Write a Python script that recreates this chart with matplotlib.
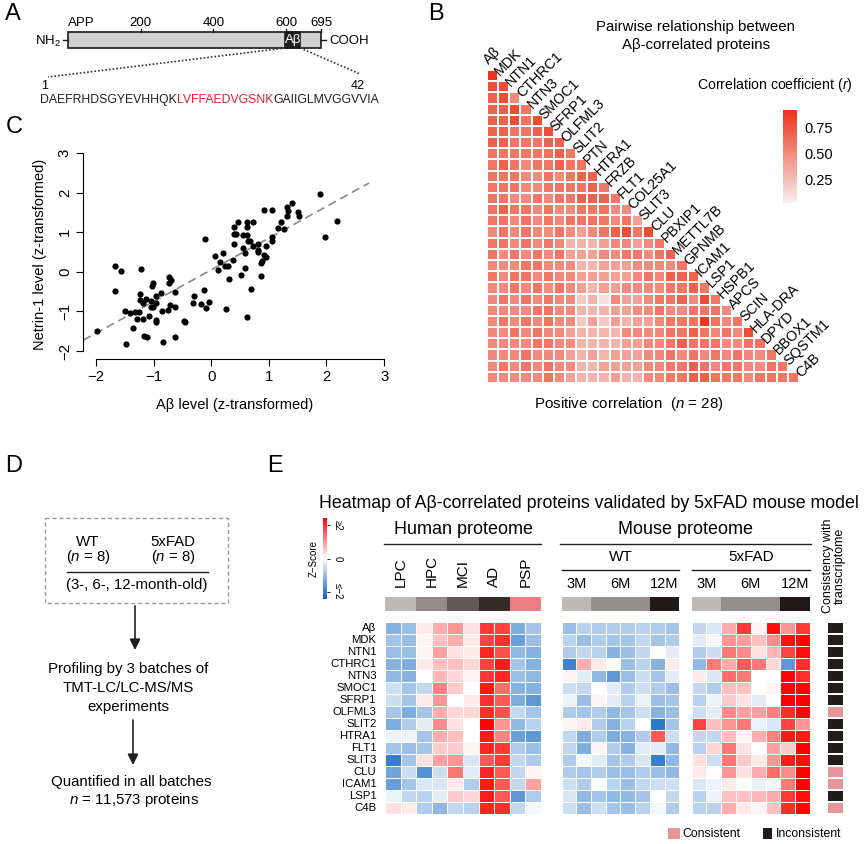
import numpy as np
import matplotlib
matplotlib.use('Agg')
import matplotlib.pyplot as plt
import matplotlib.transforms as mtransforms
from matplotlib.colors import LinearSegmentedColormap, Normalize, ListedColormap
from matplotlib.cm import ScalarMappable
from matplotlib.patches import Rectangle

plt.rcParams['font.family'] = ['Liberation Sans', 'DejaVu Sans']
plt.rcParams['mathtext.fontset'] = 'custom'
plt.rcParams['mathtext.rm'] = 'Liberation Sans'
plt.rcParams['mathtext.it'] = 'Liberation Sans:italic'

# ---------------- data ----------------
# A: APP schematic
app_len = 695
app_ticks = [200, 400, 600, 695]
abeta_span = (597, 638)
seq_parts = ["DAEFRHDSGYEVHHQK", "LVFFAEDVGSNK", "GAIIGLMVGGVVIA"]

# B: pairwise correlation (lower triangle, one digit = r x 10)
b_proteins = ["Aβ", "MDK", "NTN1", "CTHRC1", "NTN3", "SMOC1", "SFRP1", "OLFML3",
              "SLIT2", "PTN", "HTRA1", "FRZB", "FLT1", "COL25A1", "SLIT3", "CLU",
              "PBXIP1", "METTL7B", "GPNMB", "ICAM1", "LSP1", "HSPB1", "APCS",
              "SCIN", "HLA-DRA", "DPYD", "BBOX1", "SQSTM1", "C4B"]
corr_rows = [
    "9", "88", "785", "7786", "77868", "776678", "7766677", "66666676",
    "676566766", "6665565677", "66655666676", "665565667776",
    "6766565566655", "66565656666564", "565655654567868",
    "6656565333455456", "65656564445566567", "555665553344455556",
    "6566565544444565777", "55656565434455556676", "565656552315445667586",
    "5555665533344556556665", "56565655242434456669656",
    "556565543333555566765658", "5555665533334455676665566",
    "55565554343444556565656556", "565656553344445566765665566",
    "5555565433343355667766656666",
]

# C: Abeta vs Netrin-1
abeta_level = [-1.67, -1.56, -1.22, -1.67, -1.24, -1.01, -1.02, -0.87, -0.95, -0.74,
               -0.69, -0.73, -0.63, -1.24, -1.13, -1.05, -1.18, -0.96, -1.01, -1.05,
               -0.72, -0.62, -1.49, -1.41, -1.33, -1.26, -0.86, -0.75, -1.08, -1.28,
               -1.19, -0.96, -0.95, -1.35, -1.99, -1.17, -1.11, -1.48, -0.84, -0.62,
               -0.48, -0.45, -0.30, -0.32, -0.12, -0.18, -0.09, -0.04, -0.10,
               0.07, 0.12, 0.16, 0.21, 0.24, 0.29, 0.31, 0.38, 0.26, 0.52,
               0.58, 0.58, 0.69, 0.62, 0.81, 0.86, 0.87, 0.88, 0.91, 0.95,
               0.55, 1.89, 2.18, 1.98, 0.91, 1.06, 1.31, 1.40, 1.33, 1.31,
               1.50, 1.52, 1.21, 1.15, 1.27, 1.06, 1.06, 0.95, 0.81, 0.81,
               0.72, 0.62, 0.47, 0.39, 0.62, 0.39, 0.43, 0.55, 0.62, 0.64,
               0.68, 0.40, 0.55, 0.72]
netrin_level = [0.14, 0.02, 0.07, -0.49, -0.56, -0.29, -0.35, -0.54, -0.60, -0.14,
                -0.20, -0.29, -0.51, -0.71, -0.69, -0.74, -0.78, -0.79, -0.88, -0.89,
                -0.84, -0.88, -0.99, -1.05, -1.02, -1.02, -0.98, -0.96, -1.11, -1.20,
                -1.19, -1.22, -1.27, -1.43, -1.49, -1.62, -1.65, -1.81, -1.76, -1.65,
                -1.23, -1.27, -0.62, -0.79, -0.46, -0.82, -0.91, -0.75, 0.83,
                0.41, 0.05, 0.25, 0.47, 0.14, 0.14, -0.17, 0.29, -0.93, -0.08,
                0.09, 0.47, -0.43, -1.13, 0.51, -0.10, 0.22, 0.28, 0.43, 0.37,
                3.21, 1.97, 1.29, 0.89, 1.57, 1.57, 1.63, 1.73, 1.54, 1.41,
                1.50, 1.41, 1.25, 1.10, 1.08, 0.88, 0.78, 0.66, 0.70, 0.56,
                1.27, 1.27, 1.25, 1.13, 1.13, 0.96, 0.96, 0.93, 0.93, 0.77,
                0.77, 0.70, 0.60, 0.66]
fit_x = np.array([-2.22, 2.74])
fit_intercept, fit_slope = 0.05, 0.80

# E: z-score heatmap
e_proteins = ["Aβ", "MDK", "NTN1", "CTHRC1", "NTN3", "SMOC1", "SFRP1", "OLFML3",
              "SLIT2", "HTRA1", "FLT1", "SLIT3", "CLU", "ICAM1", "LSP1", "C4B"]
human_groups = ["LPC", "HPC", "MCI", "AD", "PSP"]
human_cols = [0, 0, 1, 1, 2, 2, 3, 3, 4, 4]
mouse_ages = ["3M", "6M", "12M"]
mouse_cols = [0, 0, 1, 1, 1, 1, 2, 2]
human_z = [
    [-1.2, -1.0, 0.2, 0.8, 1.0, 0.3, 1.9, 1.8, -1.3, -0.9],
    [-0.9, -1.0, 0.1, 0.6, 0.8, 0.2, 1.8, 2.0, -1.5, -1.0],
    [-1.0, -1.0, 0.1, 0.9, 0.3, 0.2, 2.1, 1.7, -1.1, -1.2],
    [-1.2, -1.3, 0.2, 0.6, 0.6, 0.4, 1.8, 2.2, -0.9, -1.2],
    [-1.1, -1.2, 0.0, 0.7, 0.4, 0.1, 1.9, 2.1, -1.0, -1.1],
    [-0.5, -0.9, -0.6, 1.2, 0.5, 0.0, 2.2, 1.4, -1.2, -1.2],
    [-0.5, -0.9, 0.2, 1.0, 0.0, 0.2, 2.0, 1.6, -1.3, -1.6],
    [-0.9, -1.3, -0.9, 0.8, 0.4, 0.4, 2.0, 1.7, -0.6, -0.9],
    [-1.3, -0.8, -0.3, 1.1, 0.3, 0.0, 2.4, 1.0, -1.1, -0.7],
    [-0.2, -0.2, -0.9, 0.8, 0.6, 0.0, 2.2, 1.2, -1.5, -1.6],
    [-0.9, -1.0, -0.9, 0.5, 0.5, 0.1, 2.1, 1.9, -0.8, -1.0],
    [-2.0, -0.9, 0.3, 0.9, 1.0, -0.4, 1.6, 1.9, -0.6, -0.8],
    [-1.4, -0.5, -1.7, -0.5, 1.3, -0.3, 2.1, 1.6, -0.6, 0.1],
    [-1.5, -0.9, -0.4, -0.4, 0.2, -0.8, 2.2, 1.6, -0.6, 0.9],
    [-0.2, -0.6, -0.7, -0.3, 0.5, 0.4, 2.2, 1.6, -1.6, -0.8],
    [0.3, 0.2, -0.8, -1.1, -0.6, -0.7, 2.1, 2.0, -0.6, -0.1],
]
wt_z = [
    [-1.0, -0.7, -0.8, -0.8, -0.8, -0.7, -0.8, -0.9],
    [-0.7, -1.0, -0.8, -0.9, -0.9, -0.6, -0.9, -0.8],
    [-0.8, -0.6, -0.7, -1.2, -1.0, -0.6, 0.0, -0.3],
    [-1.9, 0.8, 0.2, 0.0, -1.0, -0.7, -1.2, 0.2],
    [0.1, -0.3, -1.1, -1.6, -1.0, -0.5, -0.9, -0.3],
    [-0.5, -0.6, 0.0, -0.3, -0.8, -0.5, -0.8, -1.0],
    [-0.2, -1.0, 0.1, -0.3, -0.7, -0.2, -1.0, -0.9],
    [-0.8, -0.9, -0.8, -1.1, -0.9, -0.5, -1.2, -1.0],
    [0.1, 0.2, -0.8, -1.2, -0.7, 0.0, -2.1, -0.9],
    [-0.6, -1.3, -0.8, -1.3, -1.2, -0.8, 1.6, -0.5],
    [-0.6, -1.3, 0.1, -0.8, -1.2, -0.3, -0.3, -1.1],
    [-0.8, -0.1, -0.3, -0.9, -0.8, -0.4, -2.0, -1.1],
    [-0.8, -0.9, -0.8, -1.0, -1.0, -0.8, -1.0, -1.1],
    [-0.5, -0.8, 0.0, -0.7, -1.0, -0.6, -0.5, -0.5],
    [-0.4, -1.1, -0.9, -1.1, -1.1, -0.9, 0.0, -0.6],
    [-0.5, -1.0, -0.5, -0.9, -1.0, -0.7, -0.1, -0.8],
]
fad_z = [
    [-0.6, -0.4, 0.8, 1.9, 0.1, 2.3, 1.0, 1.9],
    [-0.3, -0.1, 1.0, 0.9, 0.6, 1.1, 2.3, 2.4],
    [-0.8, -0.5, 1.3, 1.1, 0.3, 0.7, 1.8, 2.3],
    [-1.1, 1.3, 0.8, 1.6, 1.3, 0.4, -1.6, 2.0],
    [0.2, -0.4, 1.4, 1.3, 0.0, 0.0, 2.4, 2.0],
    [-0.6, -0.8, 0.6, 0.6, 0.0, 0.1, 2.4, 2.4],
    [-0.7, -0.2, 0.5, 0.3, -0.3, 0.0, 2.5, 2.5],
    [-0.5, -0.3, 1.1, 0.9, 0.9, 1.2, 2.0, 2.4],
    [1.8, 0.6, 1.0, 1.3, -0.2, -0.4, 1.8, 1.0],
    [-0.6, -0.6, 0.6, 0.1, 0.8, 1.2, 2.2, 2.2],
    [-0.7, 0.4, 1.3, 0.3, 0.0, 0.9, 0.5, 2.5],
    [0.3, -0.5, 1.3, 0.5, 0.2, 1.0, 2.2, 2.3],
    [0.2, 0.0, 1.0, 0.3, 0.8, 1.4, 1.1, 2.5],
    [-0.4, -0.2, 0.2, 0.0, -0.2, 0.1, 1.3, 2.4],
    [-0.7, -0.2, 0.6, 0.6, 0.7, 0.8, 1.9, 2.3],
    [-0.7, -0.7, 0.8, 0.2, 0.1, 0.6, 2.0, 2.4],
]
consistent = [0, 0, 0, 0, 0, 0, 0, 1, 0, 0, 0, 0, 1, 1, 0, 1]

# ---------------- figure ----------------
W, H = 867, 844
fig = plt.figure(figsize=(W / 100, H / 100), dpi=100)


def box(x0, y0, x1, y1):
    return [x0 / W, 1 - y1 / H, (x1 - x0) / W, (y1 - y0) / H]


ov = fig.add_axes([0, 0, 1, 1])
ov.set_xlim(0, W)
ov.set_ylim(H, 0)
ov.axis('off')
ov.set_zorder(10)
ov.patch.set_alpha(0)

for letter, (lx, ly) in zip("ABCDE", [(5, 14), (428, 14), (6, 127), (5, 466), (267, 466)]):
    ov.text(lx, ly, letter, fontsize=17, ha='left', va='center')

# ---------- A ----------
def res_x(r):
    return 68 + (r - 1) * 253 / (app_len - 1)

ov.add_patch(Rectangle((res_x(1), 32), res_x(app_len) - res_x(1), 16,
                       facecolor='#d0d0d2', edgecolor='#1a1a1a', lw=1.2))
ov.add_patch(Rectangle((res_x(abeta_span[0]), 32), res_x(abeta_span[1]) - res_x(abeta_span[0]), 16,
                       facecolor='#231f20', edgecolor='#1a1a1a', lw=1.2))
ov.text((res_x(abeta_span[0]) + res_x(abeta_span[1])) / 2, 40.5, "Aβ", color='white',
        fontsize=9.5, ha='center', va='center')
for t in app_ticks:
    ov.plot([res_x(t), res_x(t)], [28.5, 32], color='#1a1a1a', lw=1)
    ov.text(res_x(t), 23, str(t), fontsize=9.5, ha='center', va='center')
ov.text(81, 23, "APP", fontsize=9.5, ha='center', va='center')
ov.plot([63, 68], [40, 40], color='#1a1a1a', lw=1)
ov.plot([321, 326], [40, 40], color='#1a1a1a', lw=1)
ov.text(61, 41, "NH$_2$", fontsize=9.5, ha='right', va='center')
ov.text(329, 40.5, "COOH", fontsize=9.5, ha='left', va='center')
ov.plot([res_x(abeta_span[0]), 48], [48, 77], color='#333333', lw=1.2, ls=(0, (1, 1.2)))
ov.plot([res_x(abeta_span[1]), 360], [48, 74], color='#333333', lw=1.2, ls=(0, (1, 1.2)))
ov.text(45, 86, "1", fontsize=9, ha='center', va='center')
ov.text(358, 86, "42", fontsize=9, ha='center', va='center')
t1 = ov.text(40, 106, seq_parts[0], fontsize=8.8, ha='left', va='bottom', color='#231f20')
t2 = ov.annotate(seq_parts[1], xy=(1, 0), xycoords=t1, fontsize=8.8, ha='left', va='bottom',
                 color='#e0202c')
ov.annotate(seq_parts[2], xy=(1, 0), xycoords=t2, fontsize=8.8, ha='left', va='bottom',
            color='#231f20')

# ---------- B ----------
n = len(corr_rows)
corr = np.full((n, n), np.nan)
for i, row in enumerate(corr_rows):
    corr[i, :len(row)] = [int(c) / 10 for c in row]
cmap_b = LinearSegmentedColormap.from_list('corr', ['#f6efee', '#ec3219'])
norm_b = Normalize(0.015, 0.926)
axb = fig.add_axes(box(487, 70, 799, 383))
axb.pcolormesh(np.ma.masked_invalid(corr), cmap=cmap_b, norm=norm_b,
               edgecolors='white', linewidth=0.25)
axb.set_xlim(0, n)
axb.set_ylim(n, 0)
axb.axis('off')
for k, name in enumerate(b_proteins):
    axb.text(k + 0.35, k - 0.3, name, rotation=45, rotation_mode='anchor',
             ha='left', va='bottom', fontsize=10.3, clip_on=False)
ov.text(696, 27, "Pairwise relationship between", fontsize=10.8, ha='center', va='center')
ov.text(696, 45, "Aβ-correlated proteins", fontsize=10.8, ha='center', va='center')
ov.text(697, 85, "Correlation coefficient ($\\it{r}$)", fontsize=10.2, ha='left', va='center')
ov.text(629, 404, "Positive correlation  ($\\it{n}$ = 28)", fontsize=10.9, ha='center', va='center')
caxb = fig.add_axes(box(783, 110, 797, 203))
cb = fig.colorbar(ScalarMappable(norm_b, cmap_b), cax=caxb, ticks=[0.25, 0.5, 0.75])
cb.outline.set_visible(False)
caxb.set_yticklabels(['0.25', '0.50', '0.75'])
caxb.tick_params(length=0, labelsize=10.5, pad=5)

# ---------- C ----------
axc = fig.add_axes(box(83, 149, 387, 359))
axc.scatter(abeta_level, netrin_level, s=20, color='black', linewidths=0, zorder=3)
axc.plot(fit_x, fit_intercept + fit_slope * fit_x, color='#8a8a8a', lw=1.2, ls=(0, (5, 3)))
axc.set_xlim(-2.225, 3.05)
axc.set_ylim(-2.2, 3.1)
for s in ['top', 'right']:
    axc.spines[s].set_visible(False)
axc.spines['left'].set_bounds(-2, 3)
axc.spines['bottom'].set_bounds(-2, 3)
axc.set_xticks(range(-2, 4))
axc.set_yticks(range(-2, 4))
axc.set_xticklabels(["\u22122", "\u22121", "0", "1", "2", "3"])
axc.set_yticklabels(["\u22122", "\u22121", "0", "1", "2", "3"], rotation=90, va='center')
axc.tick_params(length=5, labelsize=10.8, pad=3)
axc.set_xlabel("Aβ level (z-transformed)", fontsize=10.5, labelpad=10)
axc.set_ylabel("Netrin-1 level (z-transformed)", fontsize=10.5, labelpad=8)

# ---------- D ----------
fs_d = 10.8
ov.add_patch(Rectangle((45, 518), 183, 85, fill=False, edgecolor='#9a9a9a', lw=1,
                       ls=(0, (3, 2))))
ov.text(88, 542, "WT", fontsize=fs_d, ha='center', va='center')
ov.text(88, 557, "($\\it{n}$ = 8)", fontsize=fs_d, ha='center', va='center')
ov.text(173, 542, "5xFAD", fontsize=fs_d, ha='center', va='center')
ov.text(173, 557, "($\\it{n}$ = 8)", fontsize=fs_d, ha='center', va='center')
ov.plot([67, 208], [572, 572], color='#231f20', lw=1)
ov.text(137, 585, "(3-, 6-, 12-month-old)", fontsize=fs_d, ha='center', va='center')
for ya, yb, xa in [(606, 650, 135), (720, 765, 133)]:
    ov.annotate('', xy=(xa, yb), xytext=(xa, ya),
                arrowprops=dict(arrowstyle='-|>', color='#231f20', lw=1.2,
                                mutation_scale=16, shrinkA=0, shrinkB=0))
ov.text(128, 669, "Profiling by 3 batches of", fontsize=fs_d, ha='center', va='center')
ov.text(128, 688, "TMT-LC/LC-MS/MS", fontsize=fs_d, ha='center', va='center')
ov.text(128, 707, "experiments", fontsize=fs_d, ha='center', va='center')
ov.text(131, 782, "Quantified in all batches", fontsize=fs_d, ha='center', va='center')
ov.text(134, 800, "$\\it{n}$ = 11,573 proteins", fontsize=fs_d, ha='center', va='center')

# ---------- E ----------
cmap_e = LinearSegmentedColormap.from_list('z', ['#0b62bf', '#ffffff', '#ff0000'])
norm_e = Normalize(-2.45, 2.45)
row_top, row_bot = 621.7, 813.7
bar_top, bar_bot = 597, 611
blocks = [(385, 541, human_z, human_cols, ['#bcb8b5', '#928d8b', '#5f5958', '#342a2a', '#ee7c82']),
          (561.6, 679.3, wt_z, mouse_cols, ['#bdb9b6', '#938f8d', '#221a1a']),
          (691.7, 810, fad_z, mouse_cols, ['#bdb9b6', '#938f8d', '#221a1a'])]
heat_axes = []
for x0, x1, z, cols, ccols in blocks:
    ax = fig.add_axes(box(x0, row_top, x1, row_bot))
    ax.pcolormesh(np.array(z), cmap=cmap_e, norm=norm_e, edgecolors='white', linewidth=0.6)
    ax.set_ylim(len(z), 0)
    ax.axis('off')
    axa = fig.add_axes(box(x0, bar_top, x1, bar_bot))
    axa.pcolormesh(np.array([cols]), cmap=ListedColormap(ccols), vmin=-0.5, vmax=len(ccols) - 0.5)
    axa.axis('off')
    heat_axes.append(ax)

for i, name in enumerate(e_proteins):
    heat_axes[0].text(-0.55, i + 0.5, name, ha='right', va='center', fontsize=8.2)

tr_h = mtransforms.blended_transform_factory(heat_axes[0].transData, ov.transData)
for g, name in enumerate(human_groups):
    idx = [k for k, c in enumerate(human_cols) if c == g]
    ov.text(np.mean(idx) + 0.5, 587, name, transform=tr_h, rotation=90, rotation_mode='anchor',
            ha='left', va='center', fontsize=11)
for ax, geno in zip(heat_axes[1:], ["WT", "5xFAD"]):
    tr = mtransforms.blended_transform_factory(ax.transData, ov.transData)
    for g, name in enumerate(mouse_ages):
        idx = [k for k, c in enumerate(mouse_cols) if c == g]
        ov.text(np.mean(idx) + 0.5, 584, name, transform=tr, ha='center', va='center', fontsize=10.5)
    ov.text(len(mouse_cols) / 2, 557, geno, transform=tr, ha='center', va='center', fontsize=11)
    ov.plot([0, len(mouse_cols)], [570, 570], transform=tr, color='#231f20', lw=1)

ov.text(463, 530, "Human proteome", fontsize=13, ha='center', va='center')
ov.plot([384, 541], [544, 544], color='#231f20', lw=1)
ov.text(686, 530, "Mouse proteome", fontsize=13, ha='center', va='center')
ov.plot([560, 811], [544, 544], color='#231f20', lw=1)
ov.text(589, 504, "Heatmap of Aβ-correlated proteins validated by 5xFAD mouse model",
        fontsize=12.8, ha='center', va='center')
ov.text(834, 566, "Consistency with\ntranscriptome", rotation=90, fontsize=9,
        ha='center', va='center', multialignment='center', linespacing=1.0)

# consistency column
axk = fig.add_axes(box(828, row_top, 843, row_bot))
for i, c in enumerate(consistent):
    axk.add_patch(Rectangle((0, i + 0.1), 1, 0.8, color='#e8959a' if c else '#231a1a', lw=0))
axk.set_xlim(0, 1)
axk.set_ylim(len(consistent), 0)
axk.axis('off')

# legend
ov.add_patch(Rectangle((668, 828), 12, 11, color='#e8959a', lw=0))
ov.text(682, 834, "Consistent", fontsize=8.8, ha='left', va='center')
ov.add_patch(Rectangle((763, 828), 9, 11, color='#231a1a', lw=0))
ov.text(776, 834, "Inconsistent", fontsize=8.8, ha='left', va='center')

# z-score colorbar
caxe = fig.add_axes(box(323, 518, 327, 599))
cbe = fig.colorbar(ScalarMappable(norm_e, cmap_e), cax=caxe, ticks=[-2, 0, 2])
cbe.outline.set_visible(False)
caxe.set_yticklabels(["\u2264\u22122", "0", "\u22652"], rotation=-90, va='center')
caxe.tick_params(length=2, width=0.6, labelsize=7, pad=2)
caxe.yaxis.set_label_position('left')
caxe.set_ylabel("Z\u2212Score", fontsize=7, labelpad=3)

fig.savefig('out.png', dpi=100)
